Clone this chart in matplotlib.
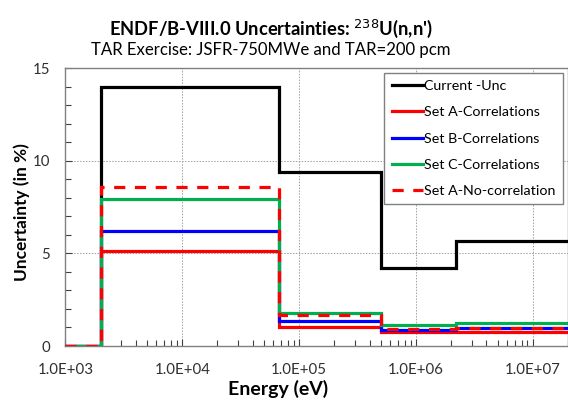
import matplotlib
matplotlib.use("Agg")
import matplotlib.pyplot as plt
from matplotlib.ticker import FuncFormatter, LogLocator, MultipleLocator

plt.rcParams["font.family"] = ["Lato", "DejaVu Sans"]

# group boundaries (eV) and uncertainties (%) per group
edges = [1e3, 2e3, 6.7e4, 5e5, 2.2e6, 2e7]
current_unc = [0.0, 14.0, 9.4, 4.2, 5.65]
set_a_corr = [0.0, 5.1, 1.05, 0.75, 0.77]
set_b_corr = [0.0, 6.2, 1.36, 0.88, 0.95]
set_c_corr = [0.0, 7.95, 1.8, 1.15, 1.22]
set_a_nocorr = [0.0, 8.6, 1.7, 0.9, 0.98]

labels = ["Current -Unc", "Set A-Correlations", "Set B-Correlations",
          "Set C-Correlations", "Set A-No-correlation"]

fig = plt.figure(figsize=(5.68, 4.03), dpi=100)
ax = fig.add_axes([0.1153, 0.1414, 0.8847, 0.6898])

lw = 2.3
ax.stairs(current_unc, edges, baseline=None, color="black", lw=lw, label=labels[0], zorder=3)
ax.stairs(set_a_corr, edges, baseline=None, color="#ff0000", lw=lw, label=labels[1], zorder=4)
ax.stairs(set_b_corr, edges, baseline=None, color="#0000ff", lw=lw, label=labels[2], zorder=5)
ax.stairs(set_c_corr, edges, baseline=None, color="#00b050", lw=lw, label=labels[3], zorder=6)
ax.stairs(set_a_nocorr, edges, baseline=None, color="#ff0000", lw=lw, ls=(0, (3.5, 3)),
          label=labels[4], zorder=7)

ax.set_xscale("log")
ax.set_xlim(1e3, 2e7)
ax.set_ylim(0, 15)

ax.xaxis.set_major_locator(LogLocator(base=10, numticks=10))
ax.xaxis.set_minor_locator(LogLocator(base=10, subs=range(2, 10), numticks=10))
ax.xaxis.set_major_formatter(FuncFormatter(lambda v, p: "%.1E" % v))
ax.yaxis.set_major_locator(MultipleLocator(5))
ax.yaxis.set_minor_locator(MultipleLocator(1))

ax.tick_params(which="both", direction="in", labelsize=10.8, colors="#404040",
               labelcolor="#303030")
ax.tick_params(which="major", length=5, width=0.8)
ax.tick_params(which="minor", length=4, width=0.8)
ax.tick_params(axis="x", which="major", pad=12)
ax.tick_params(axis="y", which="major", pad=11)

ax.grid(True, which="major", ls=(0, (1.5, 1.5)), color="#a0a0a0", lw=0.7)
for s in ax.spines.values():
    s.set_color("#808080")
    s.set_linewidth(1.0)

fig.text(0.477, 0.929, "ENDF/B-VIII.0 Uncertainties: $^{238}$U(n,n')", ha="center",
         va="center", fontsize=13.2, fontweight="bold")
fig.text(0.477, 0.876, "TAR Exercise: JSFR-750MWe and TAR=200 pcm", ha="center",
         va="center", fontsize=12.1)
fig.text(0.490, 0.021, "Energy (eV)", ha="center", va="baseline", fontsize=14,
         fontweight="bold")
fig.text(0.038, 0.473, "Uncertainty (in %)", ha="center", va="center", rotation=90,
         fontsize=12.4, fontweight="bold")

leg = ax.legend(loc="upper right", bbox_to_anchor=(0.990, 0.983), borderaxespad=0,
                fontsize=10.3, frameon=True, fancybox=False, framealpha=1,
                edgecolor="#808080", handlelength=2.2, handletextpad=0.1,
                labelspacing=1.0, borderpad=0.5)
leg.get_frame().set_linewidth(1.0)
leg.set_zorder(10)

fig.savefig("out.png", dpi=100)
